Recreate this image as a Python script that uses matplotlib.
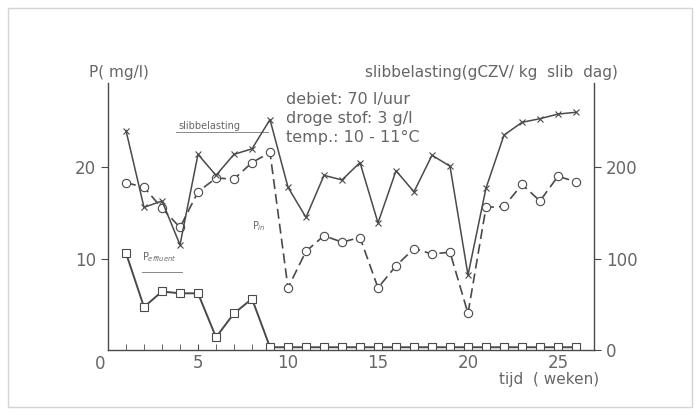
import matplotlib
matplotlib.use('Agg')
import matplotlib.pyplot as plt
from matplotlib.patches import Rectangle

# weeks
weken = list(range(1, 27))

# slibbelasting (g CZV / kg slib dag), right axis
slibbelasting = [240, 156, 163, 115, 214, 191, 214, 220, 252, 178,
                 145, 191, 186, 205, 139, 196, 173, 213, 201, 82,
                 177, 235, 249, 253, 258, 260]

# P influent (mg/l), dashed with circles
p_in = [18.3, 17.8, 15.5, 13.4, 17.3, 18.8, 18.7, 20.5, 21.6, 6.8,
        10.8, 12.5, 11.8, 12.3, 6.8, 9.2, 11.1, 10.5, 10.7, 4.0,
        15.6, 15.7, 18.1, 16.3, 19.0, 18.4]

# P effluent (mg/l), solid with squares
p_eff = [10.6, 4.7, 6.4, 6.2, 6.2, 1.4, 4.0, 5.6, 0.3, 0.3,
         0.3, 0.3, 0.3, 0.3, 0.3, 0.3, 0.3, 0.3, 0.3, 0.3,
         0.3, 0.3, 0.3, 0.3, 0.3, 0.3]

ink = '#4a4a4a'
txt = '#666666'

fig = plt.figure(figsize=(7, 4.15), dpi=100)
fig.patches.append(Rectangle((8 / 700, 8 / 415), 684 / 700, 399 / 415,
                             transform=fig.transFigure, fill=False,
                             edgecolor='#d4d4d4', linewidth=1.0))

ax = fig.add_axes([108 / 700, 65 / 415, 486 / 700, 267 / 415])
ax2 = ax.twinx()

ax.set_xlim(0, 27)
ax.set_ylim(0, 29.2)
ax2.set_ylim(0, 292)

ax.plot(weken, p_in, color=ink, linestyle=(0, (6, 3)), linewidth=1.2,
        marker='o', markersize=6, markerfacecolor='white',
        markeredgecolor=ink, markeredgewidth=0.8)
ax.plot(weken, p_eff, color=ink, linewidth=1.4,
        marker='s', markersize=6, markerfacecolor='white',
        markeredgecolor=ink, markeredgewidth=0.8)
ax2.plot(weken, slibbelasting, color=ink, linewidth=1.1,
         marker='x', markersize=4, markeredgewidth=0.8)

for a in (ax, ax2):
    a.spines['top'].set_visible(False)
    for s in a.spines.values():
        s.set_color(ink)
        s.set_linewidth(1.0)

ax.spines['right'].set_visible(False)
ax2.spines['left'].set_visible(False)
ax2.spines['bottom'].set_visible(False)

ax.set_xticks([5, 10, 15, 20, 25])
ax.set_xticks(range(0, 28), minor=True)
ax.set_yticks([10, 20])
ax2.set_yticks([0, 100, 200])
ax.tick_params(axis='x', which='both', direction='in', length=4,
               color=ink, labelsize=12, labelcolor=txt, pad=3)
ax.tick_params(axis='y', direction='out', length=5, color=ink,
               labelsize=12, labelcolor=txt)
ax2.tick_params(axis='y', direction='out', length=5, color=ink,
                labelsize=12, labelcolor=txt)

ax.text(-0.15, -0.5, '0', ha='right', va='top', fontsize=12, color=txt)

# axis titles
ax.text(-0.04, 1.04, 'P( mg/l)', transform=ax.transAxes, ha='left',
        va='center', fontsize=11, color=txt)
ax2.text(1.05, 1.04, 'slibbelasting(gCZV/ kg  slib  dag)',
         transform=ax2.transAxes, ha='right', va='center', fontsize=11,
         color=txt)
ax.text(1.01, -0.112, 'tijd  ( weken)', transform=ax.transAxes,
        ha='right', va='center', fontsize=11, color=txt)

# conditions
ax.text(0.367, 0.965, 'debiet: 70 l/uur\ndroge stof: 3 g/l\ntemp.: 10 - 11°C',
        transform=ax.transAxes, ha='left', va='top', fontsize=11.5,
        color=txt, linespacing=1.3)

# series labels
ax.text(3.9, 24.0, 'slibbelasting', ha='left', va='bottom', fontsize=7,
        color=txt)
ax.plot([3.8, 8.9], [23.8, 23.8], color='#888888', linewidth=0.7)
ax.text(1.9, 9.4, 'P$_{effluent}$', ha='left', va='bottom', fontsize=7,
        color=txt)
ax.plot([1.9, 4.1], [8.5, 8.5], color='#888888', linewidth=0.7)
ax.text(8.0, 13.6, 'P$_{in}$', ha='left', va='center', fontsize=7,
        color=txt)

fig.savefig('out.png', dpi=100)
